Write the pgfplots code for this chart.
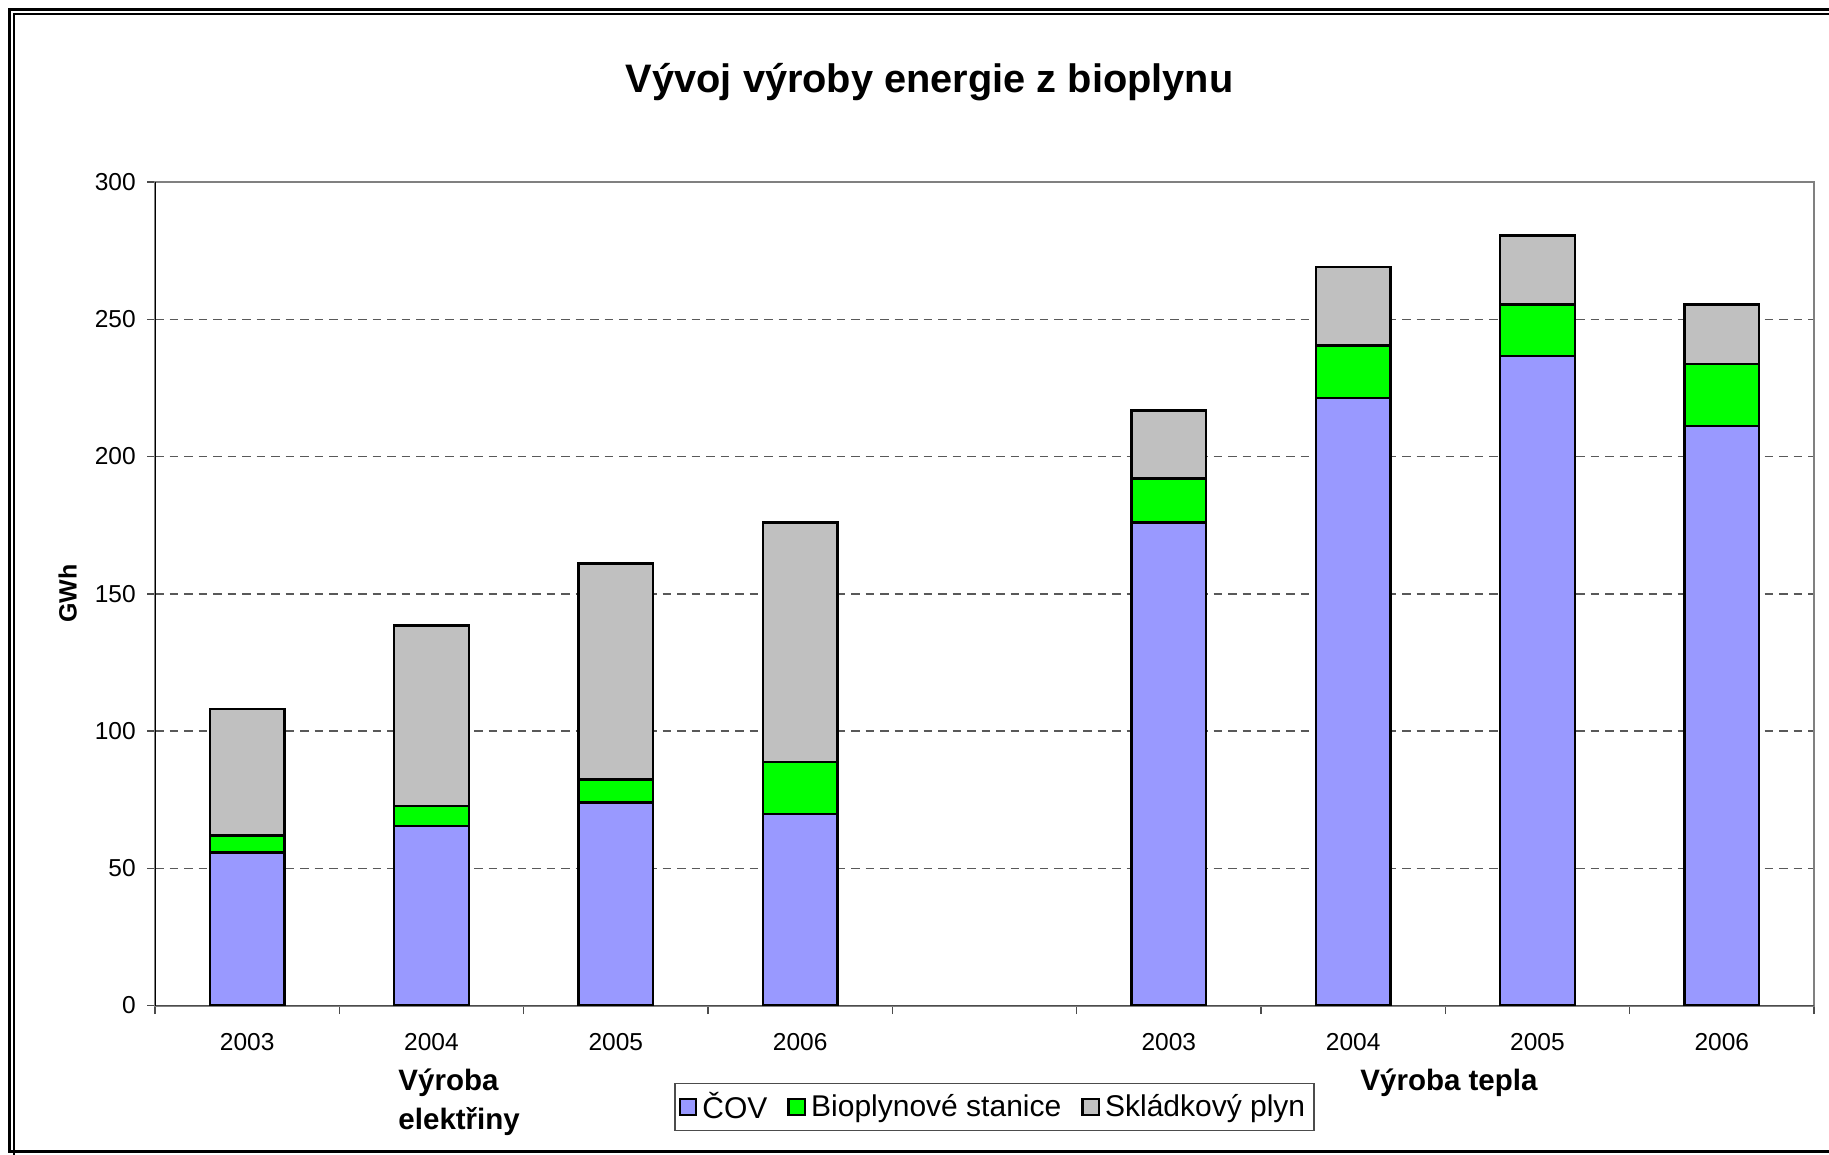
\documentclass[border=0pt]{standalone}
\usepackage{fontspec}
\setmainfont{Liberation Sans}
\usepackage{pgfplots}
\pgfplotsset{compat=1.18}
\definecolor{cov}{HTML}{9999FF}
\definecolor{bio}{HTML}{00FF00}
\definecolor{skl}{HTML}{C0C0C0}
\begin{document}
\begin{tikzpicture}
% 1 px of the reference = 0.4pt, origin top left
\path[use as bounding box] (0,0) rectangle (731.6pt,-461.6pt);
\begin{scope}
\clip (0,0) rectangle (731.6pt,-461.6pt);
\begin{scope}[x=0.4pt,y=-0.4pt]
  \draw[line width=1.2pt] (9.7,9.7) rectangle (1860,1151);
  \draw[line width=1pt] (14,14) rectangle (1855,1170);
\end{scope}
\end{scope}
\begin{axis}[
    at={(62pt,-402.2pt)}, anchor=south west,
    scale only axis,
    width=663.6pt, height=329.4pt,
    ybar stacked,
    bar width=0.405,
    xmin=-0.5, xmax=8.5,
    ymin=0, ymax=300,
    xtick={0,1,2,3,5,6,7,8},
    xticklabels={2003,2004,2005,2006,2003,2004,2005,2006},
    minor xtick={-0.5,0.5,1.5,2.5,3.5,4.5,5.5,6.5,7.5,8.5},
    ytick={0,50,...,300},
    xtick pos=lower, ytick pos=left,
    tick align=outside,
    major x tick style={draw=none},
    minor tick length=3.4pt,
    major tick length=3.2pt,
    tick style={black!70, line width=0.6pt},
    ymajorgrids,
    major grid style={dash pattern=on 3.4pt off 2.4pt, black!65, line width=0.6pt},
    axis line style={draw=black!50, line width=0.8pt},
    ticklabel style={font=\fontsize{9.8}{11}\selectfont},
    /pgf/number format/assume math mode=true,
    xticklabel style={yshift=-4.3pt},
    yticklabel style={xshift=-1pt},
    ylabel={\textbf{GWh}},
    ylabel style={font=\fontsize{10}{12}\selectfont, at={(axis description cs:-0.0527,0.5)}, anchor=center},
    legend style={at={(axis description cs:0.506,-0.1233)}, anchor=center,
      legend columns=3, draw=black!70, line width=0.5pt,
      font=\fontsize{12}{14}\selectfont, inner sep=1.5pt,
      /tikz/every even column/.append style={column sep=6pt}},
    legend image code/.code={\draw[#1, draw=black, line width=0.9pt] (0pt,-3.3pt) rectangle (6.6pt,3.3pt);},
    every axis plot/.append style={draw=black, line width=1pt},
  ]
  \addplot[fill=cov] coordinates {(0,55.7) (1,65.4) (2,73.9) (3,69.7) (5,176.0) (6,221.4) (7,236.7) (8,211.2)};
  \addplot[fill=bio] coordinates {(0,6.3) (1,7.3) (2,8.5) (3,19.1) (5,16.0) (6,19.1) (7,18.7) (8,22.5)};
  \addplot[fill=skl] coordinates {(0,46.0) (1,65.8) (2,78.6) (3,87.2) (5,24.7) (6,28.5) (7,25.1) (8,21.7)};
  \legend{ČOV,Bioplynové stanice,Skládkový plyn}
  \draw[black, line width=0.8pt] (rel axis cs:0,0) -- (rel axis cs:0,1);
  \draw[black!70, line width=0.8pt] (rel axis cs:0,0) -- (rel axis cs:1,0);
\end{axis}
\begin{scope}[x=0.4pt,y=-0.4pt]
  \node[font=\fontsize{15.9}{18}\selectfont\bfseries] at (929.7,81.7) {Vývoj výroby energie z bioplynu};
  \node[font=\fontsize{11.8}{14}\selectfont\bfseries, anchor=west, inner sep=0pt] at (398,1083) {Výroba};
  \node[font=\fontsize{11.8}{14}\selectfont\bfseries, anchor=west, inner sep=0pt] at (398,1122) {elektřiny};
  \node[font=\fontsize{11.8}{14}\selectfont\bfseries] at (1449,1083) {Výroba tepla};
\end{scope}
\end{tikzpicture}
\end{document}
